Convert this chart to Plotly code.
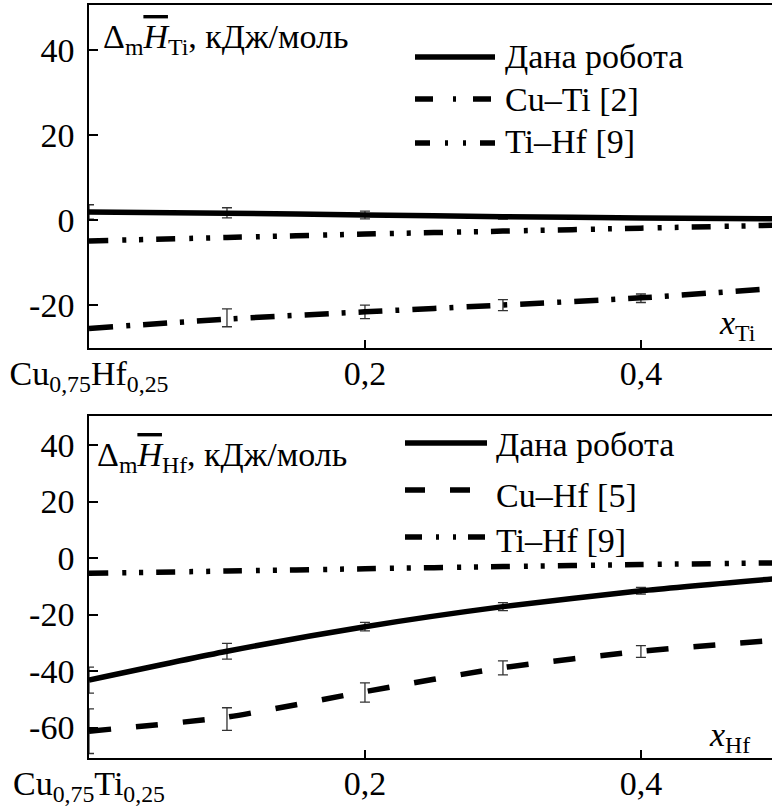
import plotly.graph_objects as go

# ---------------- data ----------------
x_grid = [0.0, 0.1, 0.2, 0.3, 0.4, 0.5]

# top panel: partial enthalpy of Ti
ti_this_work = [1.9, 1.6, 1.2, 0.8, 0.5, 0.3]
ti_cu_ti = [-25.5, -23.3, -21.6, -20.0, -18.3, -16.0]
ti_ti_hf = [-4.9, -4.1, -3.3, -2.6, -1.9, -1.2]

ti_err_x = [0.0, 0.1, 0.2, 0.3]
ti_this_err_y = [1.9, 1.7, 1.2, 0.7]
ti_this_err = [1.7, 1.2, 0.9, 0.5]
ti_cuti_err_x = [0.1, 0.2, 0.3, 0.4]
ti_cuti_err_y = [-23.0, -21.6, -20.0, -18.4]
ti_cuti_err = [2.1, 1.6, 1.3, 1.0]

# bottom panel: partial enthalpy of Hf
hf_this_work = [-43.2, -33.0, -24.3, -17.2, -11.6, -7.2]
hf_cu_hf = [-61.3, -56.3, -47.3, -38.8, -33.0, -29.0]
hf_ti_hf = [-5.4, -4.6, -3.8, -3.0, -2.3, -1.7]

hf_err_x = [0.0, 0.1, 0.2, 0.3, 0.4]
hf_this_err_y = [-43.2, -33.0, -24.3, -17.2, -11.6]
hf_this_err = [4.6, 2.8, 1.5, 1.4, 1.2]
hf_cuhf_err_y = [-61.3, -57.0, -47.6, -38.9, -33.1]
hf_cuhf_err = [7.9, 4.0, 3.4, 2.5, 2.1]

x_tickvals = [0.0, 0.2, 0.4]
x_ticktext_top = ["Cu<sub>0,75</sub>Hf<sub>0,25</sub>", "0,2", "0,4"]
x_ticktext_bot = ["Cu<sub>0,75</sub>Ti<sub>0,25</sub>", "0,2", "0,4"]
y_tickvals_top = [-20, 0, 20, 40]
y_ticktext_top = ["-20", "0", "20", "40"]
y_tickvals_bot = [-60, -40, -20, 0, 20, 40]
y_ticktext_bot = ["-60", "-40", "-20", "0", "20", "40"]

legend_top = ["Дана робота", "Cu–Ti [2]", "Ti–Hf [9]"]
legend_bot = ["Дана робота", "Cu–Hf [5]", "Ti–Hf [9]"]

# ---------------- styles ----------------
W, H = 772, 812
ML = 89
FONT = "Liberation Serif, Times New Roman, Tinos, DejaVu Serif, serif"
FS = 34
LW = 5.5
DASH_CUTI = "24px,13px,4px,13px"
DASH_TIHF = "19px,14px,4px,13px,4px,13px"
DASH_CUHF = "22px,25px"


def px_x(p):
    return (p - ML) / (W - ML)


def px_y(p):
    return 1 - p / H


fig = go.Figure()


def err_trace(xs, ys, es, xa, ya):
    fig.add_trace(go.Scatter(
        x=xs, y=ys, mode="markers", xaxis=xa, yaxis=ya, showlegend=False,
        marker=dict(size=1, color="rgba(0,0,0,0)"),
        error_y=dict(type="data", array=es, visible=True, color="#333",
                     thickness=1.3, width=5),
        hoverinfo="skip"))


def line_trace(ys, dash, xa, ya, name):
    fig.add_trace(go.Scatter(
        x=x_grid, y=ys, mode="lines", xaxis=xa, yaxis=ya, name=name,
        showlegend=False, line=dict(color="black", width=LW, dash=dash,
                                    shape="spline", smoothing=0.6)))


# top panel
err_trace(ti_err_x, ti_this_err_y, ti_this_err, "x", "y")
err_trace(ti_cuti_err_x, ti_cuti_err_y, ti_cuti_err, "x", "y")
line_trace(ti_this_work, "solid", "x", "y", legend_top[0])
line_trace(ti_cu_ti, DASH_CUTI, "x", "y", legend_top[1])
line_trace(ti_ti_hf, DASH_TIHF, "x", "y", legend_top[2])

# bottom panel
err_trace(hf_err_x, hf_this_err_y, hf_this_err, "x2", "y2")
err_trace(hf_err_x, hf_cuhf_err_y, hf_cuhf_err, "x2", "y2")
line_trace(hf_this_work, "solid", "x2", "y2", legend_bot[0])
line_trace(hf_cu_hf, DASH_CUHF, "x2", "y2", legend_bot[1])
line_trace(hf_ti_hf, DASH_TIHF, "x2", "y2", legend_bot[2])

# ---------------- manual legends ----------------
shapes = []
annotations = []


def legend(names, dashes, x0, x1, xt, ys_line, ys_text):
    for nm, d, yl, yt in zip(names, dashes, ys_line, ys_text):
        shapes.append(dict(type="line", xref="paper", yref="paper",
                           x0=px_x(x0), x1=px_x(x1), y0=px_y(yl), y1=px_y(yl),
                           line=dict(color="black", width=LW, dash=d)))
        annotations.append(dict(text=nm, xref="paper", yref="paper",
                                x=px_x(xt), y=px_y(yt), xanchor="left",
                                yanchor="middle", showarrow=False,
                                font=dict(family=FONT, size=FS, color="black")))


legend(legend_top, ["solid", "18px,20px,3px,17px", "15px,15px,3px,15px,3px,14px"],
       415, 495, 503, [57, 99, 143], [56, 99, 142])
legend(legend_bot, ["solid", "20px,25px", "17px,14px,3px,14px,3px,12px"],
       405, 487, 494, [443, 490, 537], [444, 495, 540])

# axis titles inside the plots
title_top = ("Δ<sub>m</sub><span style=\"text-decoration:overline\"><i>H</i></span>"
             "<sub>Ti</sub>, кДж/моль")
title_bot = ("Δ<sub>m</sub><span style=\"text-decoration:overline\"><i>H</i></span>"
             "<sub>Hf</sub>, кДж/моль")
annotations.append(dict(text=title_top, xref="paper", yref="paper",
                        x=px_x(101), y=px_y(39), xanchor="left", yanchor="middle",
                        showarrow=False, font=dict(family=FONT, size=FS, color="black")))
annotations.append(dict(text=title_bot, xref="paper", yref="paper",
                        x=px_x(95), y=px_y(457), xanchor="left", yanchor="middle",
                        showarrow=False, font=dict(family=FONT, size=FS, color="black")))
annotations.append(dict(text="<i>x</i><sub>Ti</sub>", xref="paper", yref="paper",
                        x=px_x(758), y=px_y(325), xanchor="right", yanchor="middle",
                        showarrow=False, font=dict(family=FONT, size=FS, color="black")))
annotations.append(dict(text="<i>x</i><sub>Hf</sub>", xref="paper", yref="paper",
                        x=px_x(752), y=px_y(737), xanchor="right", yanchor="middle",
                        showarrow=False, font=dict(family=FONT, size=FS, color="black")))

axis_common = dict(showline=True, linecolor="black", linewidth=1.6, showgrid=False,
                   zeroline=False, ticks="inside", tickcolor="black", tickwidth=1.6,
                   automargin=False,
                   tickfont=dict(family=FONT, size=FS, color="black"))

fig.update_layout(
    template="none",
    width=W, height=H, plot_bgcolor="white", paper_bgcolor="white",
    margin=dict(l=ML, r=0, t=0, b=0, pad=0), showlegend=False,
    font=dict(family=FONT, size=FS, color="black"),
    xaxis=dict(domain=[0, 1], range=[0, 0.495], anchor="y", mirror=True,
               tickvals=x_tickvals, ticktext=x_ticktext_top, ticklen=8,
               ticklabelstandoff=-6, **axis_common),
    yaxis=dict(domain=[px_y(348), px_y(5)], range=[-30.1, 50.6], anchor="x",
               tickvals=y_tickvals_top, ticktext=y_ticktext_top, ticklen=9,
               ticklabelstandoff=6, **axis_common),
    xaxis2=dict(domain=[0, 1], range=[0, 0.495], anchor="y2", mirror=True,
                tickvals=x_tickvals, ticktext=x_ticktext_bot, ticklen=8,
                ticklabelstandoff=-6, **axis_common),
    yaxis2=dict(domain=[px_y(758), px_y(416)], range=[-70.8, 50.3], anchor="x2",
                tickvals=y_tickvals_bot, ticktext=y_ticktext_bot, ticklen=9,
                ticklabelstandoff=6, **axis_common),
    shapes=shapes, annotations=annotations,
)

fig.write_html("out.html", config={"displayModeBar": False},
               post_script="document.body.style.margin='0';"
                           "document.body.style.overflow='hidden';")
